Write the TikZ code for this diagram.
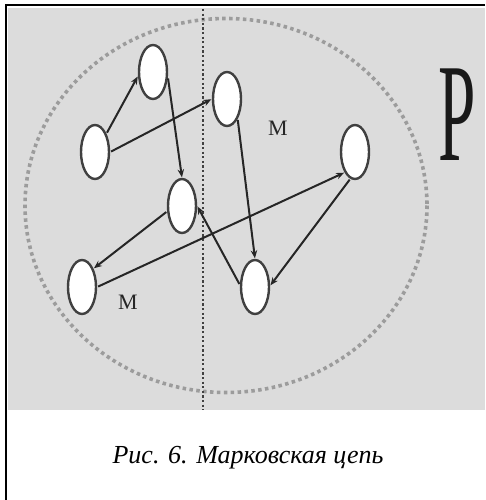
\documentclass[tikz,border=0pt]{standalone}
\usepackage{fontspec}
\setmainfont{Liberation Serif}
\usetikzlibrary{shapes.geometric,arrows.meta}
\definecolor{bggray}{HTML}{DCDCDC}
\definecolor{dotgray}{HTML}{9C9C9C}
\definecolor{nodeline}{HTML}{404040}
\tikzset{
  state/.style={ellipse,draw=nodeline,line width=2.4pt,fill=white,minimum width=28pt,minimum height=54pt,inner sep=0pt},
  link/.style={line width=2pt,draw=black!85,-{Stealth[length=8pt,width=6.5pt]},shorten <=1pt,shorten >=0.5pt},
  lbl/.style={font=\fontsize{22}{22}\selectfont,text=black!85}
}
\begin{document}
\begin{tikzpicture}[x=1pt,y=-1pt]
\useasboundingbox (0,0) rectangle (485,500);
\fill[white] (0,0) rectangle (485,500);
\fill[bggray] (8,8) rectangle (485,410);
\draw[line width=2.2pt,black] (6,500) -- (6,5) -- (485,5);
% dotted circle
\draw[dotgray,line width=3.6pt,dash pattern=on 3.5pt off 3.4pt] (226,205.5) ellipse [x radius=201,y radius=187];
% vertical dotted line
\draw[black!75,line width=2.2pt,dash pattern=on 2.2pt off 2.4pt] (203,9) -- (203,410);
% states
\node[state] (A) at (153,72) {};
\node[state] (B) at (95,152) {};
\node[state] (C) at (227,99) {};
\node[state] (D) at (355,152) {};
\node[state] (E) at (182,206) {};
\node[state] (F) at (82,287) {};
\node[state] (G) at (255,287) {};
% transitions
\draw[link] (B.58) -- (A.195);
\draw[link] (B.east) -- (C.west);
\draw[link] (A.-20) -- (E.north);
\draw[link] (C.-62) -- (G.north);
\draw[link] (D.-100) -- (G.5);
\draw[link] (E.200) -- (F.58);
\draw[link] (F.east) -- (D.243);
\draw[link] (G.172) -- (E.east);
% labels
\node[lbl] (m1) at (278,128) {М};
\node[lbl] (m2) at (128,302) {М};
\node[text=black!90] (p) at (457,115) {\scalebox{0.48}[1]{\fontsize{140}{140}\selectfont Р}};
\node[font=\itshape\fontsize{26}{26}\selectfont] (cap) at (248,458) {Рис. 6. Марковская цепь};
\end{tikzpicture}
\end{document}
